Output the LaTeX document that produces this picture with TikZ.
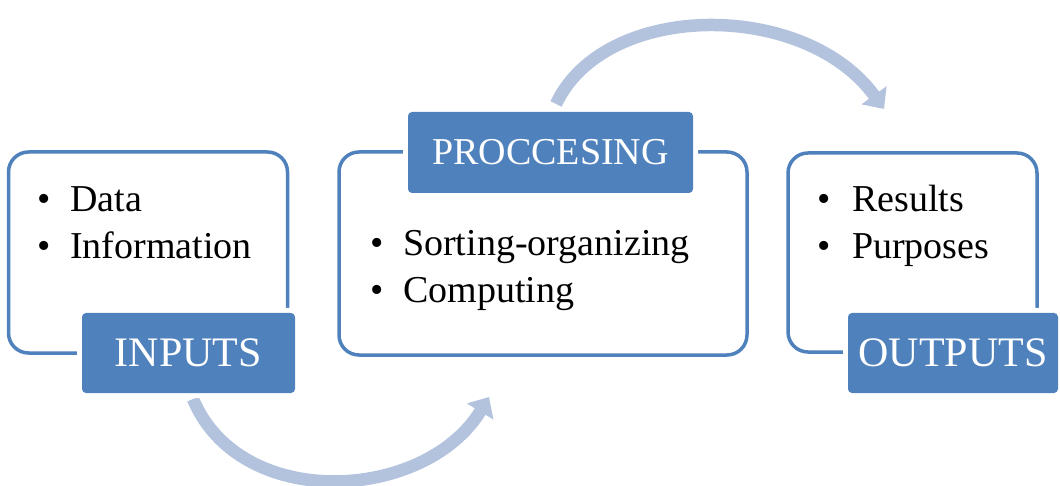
\documentclass[tikz,border=0pt]{standalone}
\usepackage{fontspec}
\setmainfont{Liberation Serif}
\usetikzlibrary{arrows.meta}
\definecolor{boxblue}{HTML}{4F81BD}
\definecolor{flowblue}{HTML}{B3C3DE}
\tikzset{
  frame/.style={draw=boxblue, line width=3.5pt, rounded corners=20pt, fill=white},
  tag/.style={fill=boxblue, rounded corners=4pt, text=white, inner sep=0pt,
    preaction={draw=white, line width=10pt, rounded corners=4pt}},
  item/.style={anchor=base west, inner sep=0pt, font=\fontsize{38}{46}\selectfont},
  flow/.style={draw=flowblue, line width=12.5pt,
    -{Triangle[width=30pt,length=17pt]}},
}
\newcommand{\bul}[2]{\makebox[#1][l]{\textbullet}#2}
\begin{document}
\begin{tikzpicture}[x=1pt,y=-1pt]
\useasboundingbox (0,0) rectangle (1060,486);

% curved flow arrows (behind the boxes)
\coordinate (a1s) at (193,399);
\coordinate (a1e) at (489,397);
\coordinate (a2s) at (556,104);
\coordinate (a2e) at (884,109);
\draw[flow] (a1s) .. controls (240,512) and (425,502) .. (a1e);
\draw[flow] (a2s) .. controls (605,0) and (805,0) .. (a2e);

% outer frames
\draw[frame] (8.5,152) rectangle (287.5,353);
\draw[frame] (339,152) rectangle (747,355);
\draw[frame] (788,153) rectangle (1037,352);
\node[inner sep=0pt] (in) at (148,252) {};
\node[inner sep=0pt] (proc) at (543,253) {};
\node[inner sep=0pt] (out) at (912,252) {};

% title tags
\node[tag, minimum width=213pt, minimum height=80pt,
  font=\fontsize{42}{50}\selectfont] (inl) at (188.5,353) {INPUTS};
\node[tag, minimum width=285pt, minimum height=81pt,
  font=\fontsize{38}{46}\selectfont] (procl) at (550.5,152.5) {PROCCESING};
\node[tag, minimum width=210pt, minimum height=80pt,
  font=\fontsize{42}{50}\selectfont] (outl) at (953,353) {OUTPUTS};

% bullet items
\node[item] (i1) at (37,212) {\bul{33pt}{Data}};
\node[item] (i2) at (37,259) {\bul{33pt}{Information}};
\node[item] (p1) at (370,256) {\bul{33pt}{Sorting-organizing}};
\node[item] (p2) at (370,303) {\bul{33pt}{Computing}};
\node[item] (o1) at (817,212) {\bul{35pt}{Results}};
\node[item] (o2) at (817,259) {\bul{35pt}{Purposes}};
\end{tikzpicture}
\end{document}
